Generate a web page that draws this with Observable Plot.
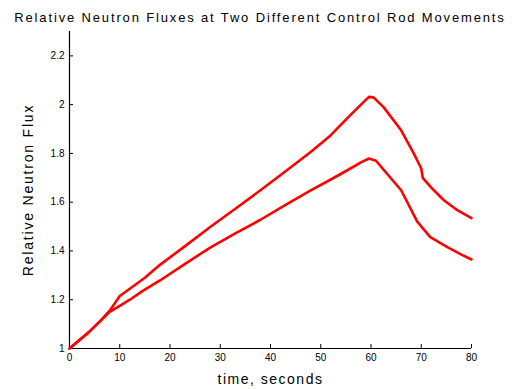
<!DOCTYPE html>
<html>
<head>
<meta charset="utf-8">
<script src="https://cdn.jsdelivr.net/npm/d3@7"></script>
<script src="https://cdn.jsdelivr.net/npm/@observablehq/plot@0.6"></script>
<style>
  html, body { margin: 0; padding: 0; background: #fff; }
  #wrap { width: 518px; height: 389px; position: relative; overflow: hidden; }
  #title { position: absolute; left: 0; top: 10px; width: 518px; text-align: center; padding-left: 2px; box-sizing: border-box;
           font-family: "Liberation Sans", Arial, sans-serif; font-size: 13px; letter-spacing: 1.85px; color: #000; line-height: 16px; white-space: nowrap; }
  #chart { position: absolute; left: 0; top: 24px; }
</style>
</head>
<body>
<div id="wrap">
  <div id="title"></div>
  <div id="chart"></div>
</div>
<script>
const titleText = "Relative Neutron Fluxes at Two Different Control Rod Movements";
const xLabel = "time, seconds";
const yLabel = "Relative Neutron Flux";
const xTicks = [0, 10, 20, 30, 40, 50, 60, 70, 80];
const yTicks = [1, 1.2, 1.4, 1.6, 1.8, 2, 2.2];

const upperTime = [0, 2, 4, 6, 8, 9, 10, 12, 15, 18, 23, 28, 33, 38, 43, 48, 52, 55.3, 58, 59.6, 60.5, 62.5, 66, 68.5, 70, 70.3, 72, 74.5, 77, 80];
const upperFlux = [1.0, 1.035, 1.07, 1.11, 1.155, 1.185, 1.215, 1.245, 1.29, 1.343, 1.42, 1.498, 1.573, 1.649, 1.727, 1.806, 1.875, 1.945, 2.0, 2.032, 2.03, 1.99, 1.895, 1.8, 1.738, 1.7, 1.66, 1.608, 1.57, 1.535];

const lowerTime = [0, 2, 4, 6, 8, 10, 12, 14.5, 18, 23, 28, 33, 38, 43, 48, 52, 55.3, 58, 59.6, 61, 62.6, 66, 69.2, 71.8, 75.2, 78, 80];
const lowerFlux = [1.0, 1.035, 1.07, 1.11, 1.15, 1.175, 1.2, 1.235, 1.279, 1.347, 1.414, 1.472, 1.528, 1.589, 1.648, 1.693, 1.731, 1.763, 1.779, 1.77, 1.731, 1.649, 1.52, 1.457, 1.416, 1.385, 1.365];

document.getElementById("title").textContent = titleText;

const upper = upperTime.map((t, i) => ({t, v: upperFlux[i]}));
const lower = lowerTime.map((t, i) => ({t, v: lowerFlux[i]}));

const font = "Liberation Sans, Arial, sans-serif";

const chart = Plot.plot({
  width: 518,
  height: 365,
  marginTop: 7,
  marginBottom: 41,
  marginLeft: 69,
  marginRight: 47,
  style: { fontFamily: font, fontSize: "10px", color: "#000", background: "transparent" },
  x: { domain: [0, 80] },
  y: { domain: [1, 2.3] },
  marks: [
    Plot.axisX({ ticks: xTicks, tickSize: -4, tickPadding: 9, tickFormat: d => String(d),
      label: xLabel, labelAnchor: "center", labelArrow: "none", labelOffset: 35, fontSize: 10 }),
    Plot.axisY({ ticks: yTicks, tickSize: -4, tickPadding: 9, tickFormat: d => String(d),
      label: yLabel, labelAnchor: "center", labelArrow: "none", labelOffset: 46, fontSize: 10 }),
    Plot.ruleX([0], { stroke: "#000", strokeWidth: 1.2 }),
    Plot.ruleY([1], { stroke: "#000", strokeWidth: 1.2 }),
    Plot.line(upper, { x: "t", y: "v", stroke: "#ff0000", strokeWidth: 2.6, strokeLinejoin: "round" }),
    Plot.line(lower, { x: "t", y: "v", stroke: "#ff0000", strokeWidth: 2.6, strokeLinejoin: "round" })
  ]
});
document.getElementById("chart").appendChild(chart);
chart.querySelectorAll("text").forEach(t => {
  if (t.textContent === xLabel) { t.style.fontSize = "14px"; t.style.letterSpacing = "1.5px"; }
  if (t.textContent === yLabel) { t.style.fontSize = "14px"; t.style.letterSpacing = "1.8px"; }
});
</script>
</body>
</html>
